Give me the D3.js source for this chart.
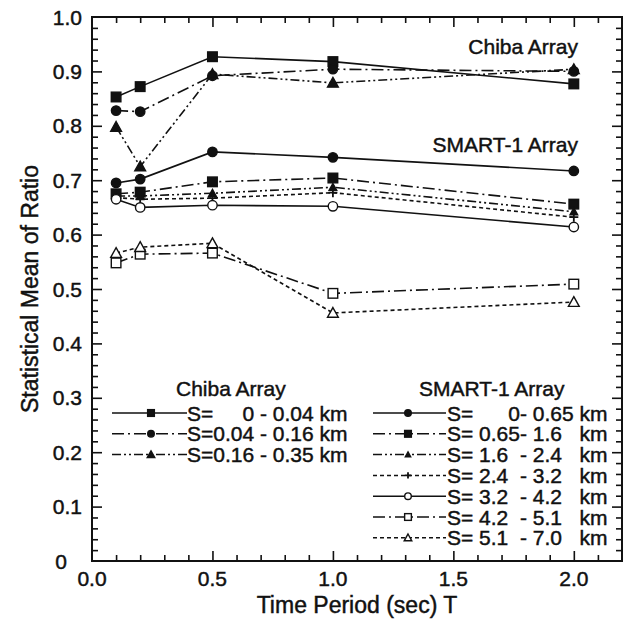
<!DOCTYPE html>
<html>
<head>
<meta charset="utf-8">
<script src="https://cdn.jsdelivr.net/npm/d3@7"></script>
<style>
  body { margin: 0; background: #fff; }
  svg text { font-family: "Liberation Sans", Arial, sans-serif; fill: #111; stroke: #111; stroke-width: 0.45px; }
  .leg { white-space: pre; }
</style>
</head>
<body>
<svg id="chart" width="631" height="625"></svg>
<script>
// data
const periods = [0.1, 0.2, 0.5, 1.0, 2.0];

const chibaLabels = ["S=     0 - 0.04 km", "S=0.04 - 0.16 km", "S=0.16 - 0.35 km"];
const chibaValues = [
    [0.853, 0.872, 0.927, 0.918, 0.877],
    [0.828, 0.826, 0.892, 0.904, 0.900],
    [0.798, 0.725, 0.895, 0.879, 0.904]
];

const smartLabels = [
    "S=      0- 0.65 km",
    "S= 0.65- 1.6   km",
    "S= 1.6  - 2.4   km",
    "S= 2.4  - 3.2   km",
    "S= 3.2  - 4.2   km",
    "S= 4.2  - 5.1   km",
    "S= 5.1  - 7.0   km"
];
const smartValues = [
    [0.695, 0.702, 0.752, 0.742, 0.717],
    [0.675, 0.678, 0.697, 0.704, 0.656],
    [0.671, 0.671, 0.676, 0.687, 0.642],
    [0.668, 0.665, 0.667, 0.677, 0.632],
    [0.665, 0.650, 0.654, 0.652, 0.614],
    [0.548, 0.564, 0.566, 0.492, 0.509],
    [0.566, 0.577, 0.584, 0.456, 0.476]
];

const xTicksMajor = [0.0, 0.5, 1.0, 1.5, 2.0];
const yTicksMajor = [0, 0.1, 0.2, 0.3, 0.4, 0.5, 0.6, 0.7, 0.8, 0.9, 1.0];

// line / marker styles
const DASH = {solid: null, dashdot: "12,4,2,4", dashdotdot: "9,3,2,3,2,3", dashed: "4,3"};
const chibaStyle = [
    {dash: "solid", marker: "square", fill: true},
    {dash: "dashdot", marker: "circle", fill: true},
    {dash: "dashdotdot", marker: "triangle", fill: true}
];
const smartStyle = [
    {dash: "solid", marker: "circle", fill: true},
    {dash: "dashdot", marker: "square", fill: true},
    {dash: "dashdotdot", marker: "triangle", fill: true, small: true},
    {dash: "dashed", marker: "plus", fill: false},
    {dash: "solid", marker: "circle", fill: false},
    {dash: "dashdot", marker: "square", fill: false},
    {dash: "dashed", marker: "triangle", fill: false}
];

const svg = d3.select("#chart");
const plotLeft = 92, plotRight = 622, plotTop = 17, plotBottom = 561;

const x = d3.scaleLinear().domain([0, 2.2]).range([plotLeft, plotRight]);
const y = d3.scaleLinear().domain([0, 1]).range([plotBottom, plotTop]);

// frame
svg.append("rect")
    .attr("x", plotLeft).attr("y", plotTop)
    .attr("width", plotRight - plotLeft).attr("height", plotBottom - plotTop)
    .attr("fill", "none").attr("stroke", "#111").attr("stroke-width", 2);

const xMinor = d3.range(1, 22).map(i => i / 10);
const yMinor = d3.range(1, 50).map(i => i / 50);
const isMajorX = v => Math.abs(v * 2 - Math.round(v * 2)) < 1e-6;
const isMajorY = v => Math.abs(v * 10 - Math.round(v * 10)) < 1e-6;

// inward ticks; sign tells which way they point
function tickAxis(axis, vals, major, sign) {
    return g => {
        g.call(axis.tickValues(vals).tickFormat("").tickSizeOuter(0)
            .tickSize(0));
        g.select(".domain").remove();
        g.selectAll(".tick line").remove();
        g.selectAll(".tick").append("line")
            .attr("stroke", "#111")
            .attr("stroke-width", 1.6)
            .each(function(d) {
                const len = (major(d) ? 10 : 6) * sign;
                const l = d3.select(this);
                if (axis.orient === "h") l.attr("x1", 0).attr("x2", 0).attr("y1", 0).attr("y2", len);
                else l.attr("y1", 0).attr("y2", 0).attr("x1", 0).attr("x2", len);
            });
    };
}

const axB = d3.axisBottom(x); axB.orient = "h";
const axT = d3.axisTop(x); axT.orient = "h";
const axL = d3.axisLeft(y); axL.orient = "v";
const axR = d3.axisRight(y); axR.orient = "v";

svg.append("g").attr("transform", `translate(0,${plotBottom})`)
    .call(tickAxis(axB, xMinor, isMajorX, -1));
svg.append("g").attr("transform", `translate(0,${plotTop})`)
    .call(tickAxis(axT, xMinor, isMajorX, 1));
svg.append("g").attr("transform", `translate(${plotLeft},0)`)
    .call(tickAxis(axL, yMinor, isMajorY, 1));
svg.append("g").attr("transform", `translate(${plotRight},0)`)
    .call(tickAxis(axR, yMinor, isMajorY, -1));

// tick labels
svg.append("g").selectAll("text")
    .data(xTicksMajor)
    .join("text")
    .attr("x", d => x(d))
    .attr("y", 586)
    .attr("text-anchor", "middle")
    .attr("font-size", 21)
    .text(d => d.toFixed(1));

svg.append("g").selectAll("text")
    .data(yTicksMajor)
    .join("text")
    .attr("x", d => d === 0 ? 67 : 82)
    .attr("y", d => y(d))
    .attr("dy", "0.36em")
    .attr("text-anchor", "end")
    .attr("font-size", 21)
    .text(d => d === 0 ? "0" : d.toFixed(1));

// axis titles
svg.append("text")
    .attr("x", (plotLeft + plotRight) / 2)
    .attr("y", 613)
    .attr("text-anchor", "middle")
    .attr("font-size", 23)
    .text("Time Period (sec) T");

svg.append("text")
    .attr("transform", `translate(38,${(plotTop + plotBottom) / 2}) rotate(-90)`)
    .attr("text-anchor", "middle")
    .attr("font-size", 23)
    .text("Statistical Mean of Ratio");

// markers
function drawMarker(g, style, cx, cy, scale) {
    const s = scale || 1;
    const fill = style.fill ? "#111" : "#fff";
    if (style.marker === "square") {
        const h = 4.8 * s;
        g.append("rect").attr("x", cx - h).attr("y", cy - h)
            .attr("width", 2 * h).attr("height", 2 * h)
            .attr("fill", fill).attr("stroke", "#111").attr("stroke-width", 1.4);
    } else if (style.marker === "circle") {
        g.append("circle").attr("cx", cx).attr("cy", cy).attr("r", 4.7 * s)
            .attr("fill", fill).attr("stroke", "#111").attr("stroke-width", 1.4);
    } else if (style.marker === "triangle") {
        const h = (style.small ? 3.8 : 5.4) * s;
        g.append("path")
            .attr("d", `M${cx},${cy - h}L${cx + h},${cy + h * 0.8}L${cx - h},${cy + h * 0.8}Z`)
            .attr("fill", fill).attr("stroke", "#111").attr("stroke-width", 1.4);
    } else if (style.marker === "plus") {
        const h = 4.5 * s;
        g.append("path")
            .attr("d", `M${cx - h},${cy}H${cx + h}M${cx},${cy - h}V${cy + h}`)
            .attr("stroke", "#111").attr("stroke-width", 1.8);
    }
}

const line = d3.line().x(d => x(d[0])).y(d => y(d[1]));

function drawSeries(values, styles) {
    values.forEach((vals, i) => {
        const st = styles[i];
        const pts = periods.map((p, j) => [p, vals[j]]);
        const g = svg.append("g");
        g.append("path")
            .attr("d", line(pts))
            .attr("fill", "none")
            .attr("stroke", "#111")
            .attr("stroke-width", 1.6)
            .attr("stroke-dasharray", DASH[st.dash]);
        pts.forEach(p => drawMarker(g, st, x(p[0]), y(p[1])));
    });
}

drawSeries(smartValues, smartStyle);
drawSeries(chibaValues, chibaStyle);

// in-plot group labels
svg.append("text").attr("x", 578).attr("y", 54).attr("text-anchor", "end")
    .attr("font-size", 21).text("Chiba Array");
svg.append("text").attr("x", 578).attr("y", 152).attr("text-anchor", "end")
    .attr("font-size", 21).text("SMART-1 Array");

// legends
function drawLegend(labels, styles, x0, x1, xm, xt, y0) {
    labels.forEach((lab, i) => {
        const yy = y0 + i * 20.8;
        const g = svg.append("g");
        g.append("line")
            .attr("x1", x0).attr("x2", x1).attr("y1", yy).attr("y2", yy)
            .attr("stroke", "#111").attr("stroke-width", 1.5)
            .attr("stroke-dasharray", DASH[styles[i].dash]);
        drawMarker(g, styles[i], xm, yy, 0.7);
        g.append("text")
            .attr("class", "leg")
            .attr("x", xt).attr("y", yy)
            .attr("dy", "0.36em")
            .attr("font-size", 21)
            .text(lab);
    });
}

svg.append("text").attr("x", 176).attr("y", 396).attr("font-size", 21).text("Chiba Array");
svg.append("text").attr("x", 419).attr("y", 396).attr("font-size", 21).text("SMART-1 Array");

drawLegend(chibaLabels, chibaStyle, 112, 187, 151, 187, 413);
drawLegend(smartLabels, smartStyle, 373, 446, 408, 447, 413);
</script>
</body>
</html>
